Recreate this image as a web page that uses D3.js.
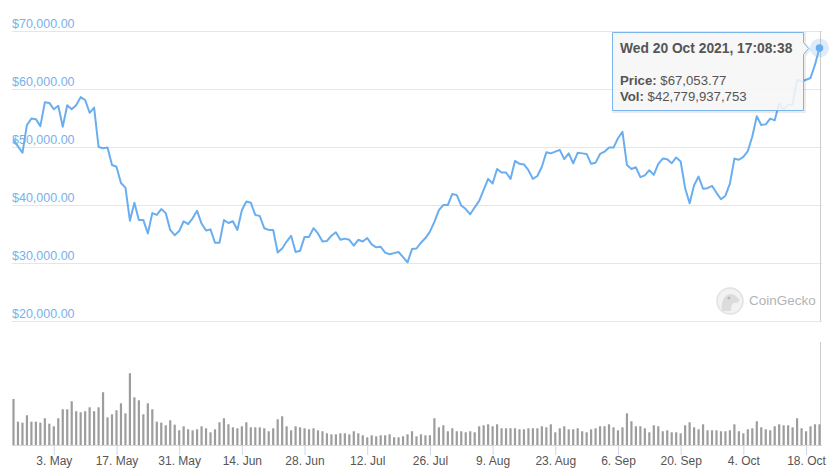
<!DOCTYPE html>
<html>
<head>
<meta charset="utf-8">
<script src="https://cdn.jsdelivr.net/npm/d3@7"></script>
<style>
    html, body { margin: 0; padding: 0; background: #fff; }
    svg { display: block; font-family: "Liberation Sans", Arial, Helvetica, sans-serif; }
</style>
</head>
<body>
<div id="chartDiv" style="width:838px;height:475px"></div>
<script>
// daily points from 24 Apr 2021 (UTC), last point is "now"
const startDay = "2021-04-24T00:00:00Z";
const endDay = "2021-10-21T00:00:00Z";
const lastStamp = "2021-10-21T00:08:38Z";

// BTC price, USD
const prices = [
    51200, 50100, 49000, 53800, 54900, 54800, 53600, 57700, 57600, 56500,
    57100, 53500, 57200, 56500, 57200, 58600, 58100, 55900, 56800, 50000,
    49800, 49900, 46900, 46600, 43800, 43000, 37300, 40400, 37400, 37400,
    35100, 38600, 38300, 39300, 38600, 35700, 34800, 35500, 37200, 36700,
    37700, 39000, 36800, 35600, 35800, 33500, 33500, 37400, 36900, 37200,
    35700, 39100, 40600, 40400, 38300, 38100, 36000, 35700, 35700, 31800,
    32500, 33700, 34700, 31900, 32100, 34500, 34500, 36000, 35100, 33700,
    33800, 34700, 35300, 34000, 34200, 34000, 33000, 34000, 33700, 34300,
    33200, 32700, 32800, 31800, 31500, 31700, 31900, 31000, 30100, 32400,
    32500, 33500, 34300, 35400, 37100, 39100, 40000, 40000, 41900, 41700,
    39900, 39300, 38400, 39600, 40700, 42600, 44500, 43700, 46200, 45600,
    45600, 44500, 47600, 47100, 47000, 46000, 44500, 45000, 46600, 49100,
    48900, 49200, 49500, 47900, 48900, 47200, 49000, 48900, 48800, 47100,
    47300, 48800, 49200, 49900, 49900, 51500, 52600, 46900, 46200, 46500,
    44800, 45100, 46000, 45200, 47100, 48000, 47900, 47200, 48200, 47500,
    42900, 40300, 43400, 44900, 42800, 42900, 43300, 42100, 41000, 41600,
    43700, 48000, 47800, 48300, 49300, 51800, 55300, 53800, 53900, 54900,
    54600, 57500, 56400, 57300, 57300, 61600, 61300, 61600, 61900, 64200,
    67053.77
];

// 24h volume, billions USD
const volumes = [
    95.2, 48.2, 46.2, 61.5, 48.2, 48.2, 46.2, 55.3, 44.1, 38.7,
    55.3, 73.9, 73.9, 90.5, 69.8, 67.7, 69.8, 78.0, 69.8, 78.0,
    109.1, 57.3, 63.5, 71.8, 86.3, 65.6, 148.4, 98.7, 92.5, 63.5,
    86.3, 73.9, 48.2, 46.2, 40.8, 51.1, 42.0, 30.4, 38.7, 32.5,
    30.4, 32.5, 38.7, 34.6, 26.3, 32.5, 47.0, 55.3, 42.8, 36.6,
    34.6, 38.7, 47.0, 36.6, 36.6, 36.6, 34.6, 28.4, 34.6, 53.2,
    59.4, 38.7, 30.4, 38.7, 36.6, 34.6, 32.5, 34.6, 30.4, 28.4,
    24.2, 22.1, 22.1, 24.2, 24.2, 22.1, 28.4, 24.2, 20.1, 15.9,
    20.1, 18.0, 20.1, 20.1, 22.1, 15.9, 15.9, 18.0, 22.1, 28.4,
    18.0, 22.1, 20.1, 20.1, 55.3, 36.6, 40.8, 28.4, 34.6, 28.4,
    28.4, 26.3, 28.4, 26.3, 38.7, 40.8, 42.8, 38.7, 42.8, 34.6,
    34.6, 34.6, 34.6, 32.5, 32.5, 34.6, 34.6, 34.6, 38.7, 36.6,
    42.8, 26.3, 34.6, 38.7, 32.5, 32.5, 34.6, 28.4, 26.3, 32.5,
    34.6, 38.7, 38.7, 42.8, 36.6, 30.4, 36.6, 65.6, 49.1, 38.7,
    38.7, 34.6, 26.3, 40.8, 38.7, 28.4, 30.4, 26.3, 26.3, 24.2,
    40.8, 47.0, 36.6, 32.5, 42.8, 30.4, 30.4, 30.4, 28.4, 28.4,
    30.4, 42.8, 28.4, 24.2, 32.5, 34.6, 49.1, 36.6, 32.5, 30.4,
    38.7, 42.8, 40.8, 40.8, 36.6, 55.3, 34.6, 28.4, 38.7, 42.8,
    42.78
];

const priceTicks = [20000, 30000, 40000, 50000, 60000, 70000];
const dateTicks = ["2021-05-03", "2021-05-17", "2021-05-31", "2021-06-14", "2021-06-28",
    "2021-07-12", "2021-07-26", "2021-08-09", "2021-08-23", "2021-09-06",
    "2021-09-20", "2021-10-04", "2021-10-18"];

const tooltipTitle = "Wed 20 Oct 2021, 17:08:38";
const tooltipPrice = "$67,053.77";
const tooltipVol = "$42,779,937,753";

const lineColor = "#6aaeef";
const labelColor = "#78b1ec";

let width = 838, height = 475;
let svg = d3.select("#chartDiv").append("svg")
    .attr("width", width)
    .attr("height", height);

const dates = d3.utcDay.range(new Date(startDay), new Date(endDay));
dates.push(new Date(lastStamp));

const plot = {left: 12, right: 822};
const pricePane = {top: 31, bottom: 321};
const volPane = {top: 342, bottom: 445};

let x = d3.scaleUtc()
    .domain([dates[0], dates[dates.length - 1]])
    .range([13.5, 819.5]);

let y = d3.scaleLinear()
    .domain([20000, 70000])
    .range([pricePane.bottom, pricePane.top]);

let yv = d3.scaleLinear()
    .domain([0, 213])
    .range([volPane.bottom, volPane.top]);

// grid lines + price labels
svg.selectAll('line.grid')
    .data(priceTicks)
    .enter()
    .append('line')
    .attr('class', 'grid')
    .attr('x1', plot.left)
    .attr('x2', plot.right)
    .attr('y1', d => Math.round(y(d)) + 0.5)
    .attr('y2', d => Math.round(y(d)) + 0.5)
    .style('stroke', '#e6e6e6');

svg.selectAll('text.yLabel')
    .data(priceTicks)
    .enter()
    .append('text')
    .attr('class', 'yLabel')
    .attr('x', plot.left)
    .attr('y', d => y(d) - 3)
    .style('font-size', '12.5px')
    .style('fill', labelColor)
    .text(d => d3.format('$,.2f')(d));

// watermark
let wm = svg.append('g').attr('transform', 'translate(730,301)');
wm.append('circle').attr('r', 13).style('fill', '#f2f2f2').style('stroke', '#e2e2e2').style('stroke-width', 1.5);
wm.append('path')
    .attr('d', 'M-8,10 C-9,2 -7,-6 0,-7 C5,-7 7,-4 9,-2 C10,0 8,2 5,2 C2,2 1,4 1,10 Z')
    .style('fill', '#dcdcdc');
wm.append('circle').attr('cx', -1).attr('cy', -3).attr('r', 1.6).style('fill', '#bdbdbd');
svg.append('text')
    .attr('x', 749)
    .attr('y', 305)
    .style('font-size', '13.5px')
    .style('fill', '#b3b3b3')
    .text('CoinGecko');

// crosshair
const cx = Math.round(x(dates[dates.length - 1])) + 0.5;
svg.append('line')
    .attr('x1', cx).attr('x2', cx)
    .attr('y1', pricePane.top).attr('y2', pricePane.bottom)
    .style('stroke', '#cccccc');
svg.append('line')
    .attr('x1', cx).attr('x2', cx)
    .attr('y1', volPane.top).attr('y2', volPane.bottom)
    .style('stroke', '#cccccc');

// volume bars
svg.selectAll('rect.vol')
    .data(volumes)
    .enter()
    .append('rect')
    .attr('class', 'vol')
    .attr('x', (d, i) => x(dates[i]) - 1.1)
    .attr('width', 2.2)
    .attr('y', d => yv(d))
    .attr('height', d => volPane.bottom - yv(d))
    .style('fill', '#9d9d9d');

// x axis
let xAxis = d3.axisBottom(x)
    .tickValues(dateTicks.map(d => new Date(d + "T00:00:00Z")))
    .tickFormat(d3.utcFormat("%-d. %b"))
    .tickSize(10)
    .tickPadding(1);

let gx = svg.append('g')
    .attr('transform', `translate(0, ${volPane.bottom})`)
    .call(xAxis);
gx.select('.domain').remove();
gx.selectAll('.tick line').style('stroke', '#ccd6eb');
gx.selectAll('.tick text')
    .style('font-size', '12px')
    .style('font-family', '"Liberation Sans", Arial, Helvetica, sans-serif')
    .style('fill', '#555');
svg.append('line')
    .attr('x1', plot.left).attr('x2', plot.right)
    .attr('y1', volPane.bottom + 0.5).attr('y2', volPane.bottom + 0.5)
    .style('stroke', '#ccd6eb');

// price line
let line = d3.line()
    .x((d, i) => x(dates[i]))
    .y(d => y(d));

svg.append('path')
    .datum(prices)
    .attr('d', line)
    .style('fill', 'none')
    .style('stroke', lineColor)
    .style('stroke-width', 2)
    .style('stroke-linejoin', 'round')
    .style('stroke-linecap', 'round');

// hover marker on last point
const lx = x(dates[dates.length - 1]);
const ly = y(prices[prices.length - 1]);
svg.append('circle')
    .attr('cx', lx).attr('cy', ly).attr('r', 9.5)
    .style('fill', 'rgba(124,181,236,0.25)');
svg.append('circle')
    .attr('cx', lx).attr('cy', ly).attr('r', 3.8)
    .style('fill', lineColor);

// tooltip
const tip = {left: 612.5, top: 32.5, right: 803.5, bottom: 110.5};
const ay = Math.round(ly) + 0.5;
const tipPath = `M${tip.left},${tip.top} H${tip.right} V${ay - 6} L${tip.right + 5},${ay} L${tip.right},${ay + 6} V${tip.bottom} H${tip.left} Z`;
svg.append('path')
    .attr('d', tipPath)
    .attr('transform', 'translate(1,1)')
    .style('fill', 'none')
    .style('stroke', 'rgba(0,0,0,0.08)')
    .style('stroke-width', 3);
svg.append('path')
    .attr('d', tipPath)
    .style('fill', 'rgba(246,246,246,0.88)')
    .style('stroke', '#7cb5ec')
    .style('stroke-width', 1);

let tipText = svg.append('g').style('fill', '#555');
tipText.append('text')
    .attr('x', 620).attr('y', 52.5)
    .style('font-size', '13.8px')
    .style('font-weight', 'bold')
    .text(tooltipTitle);

let pt = tipText.append('text')
    .attr('x', 620).attr('y', 84.5)
    .style('font-size', '13.2px');
pt.append('tspan').style('font-weight', 'bold').text('Price:');
pt.append('tspan').text(' ' + tooltipPrice);

let vt = tipText.append('text')
    .attr('x', 620).attr('y', 101)
    .style('font-size', '13.2px');
vt.append('tspan').style('font-weight', 'bold').text('Vol:');
vt.append('tspan').text(' ' + tooltipVol);
</script>
</body>
</html>
